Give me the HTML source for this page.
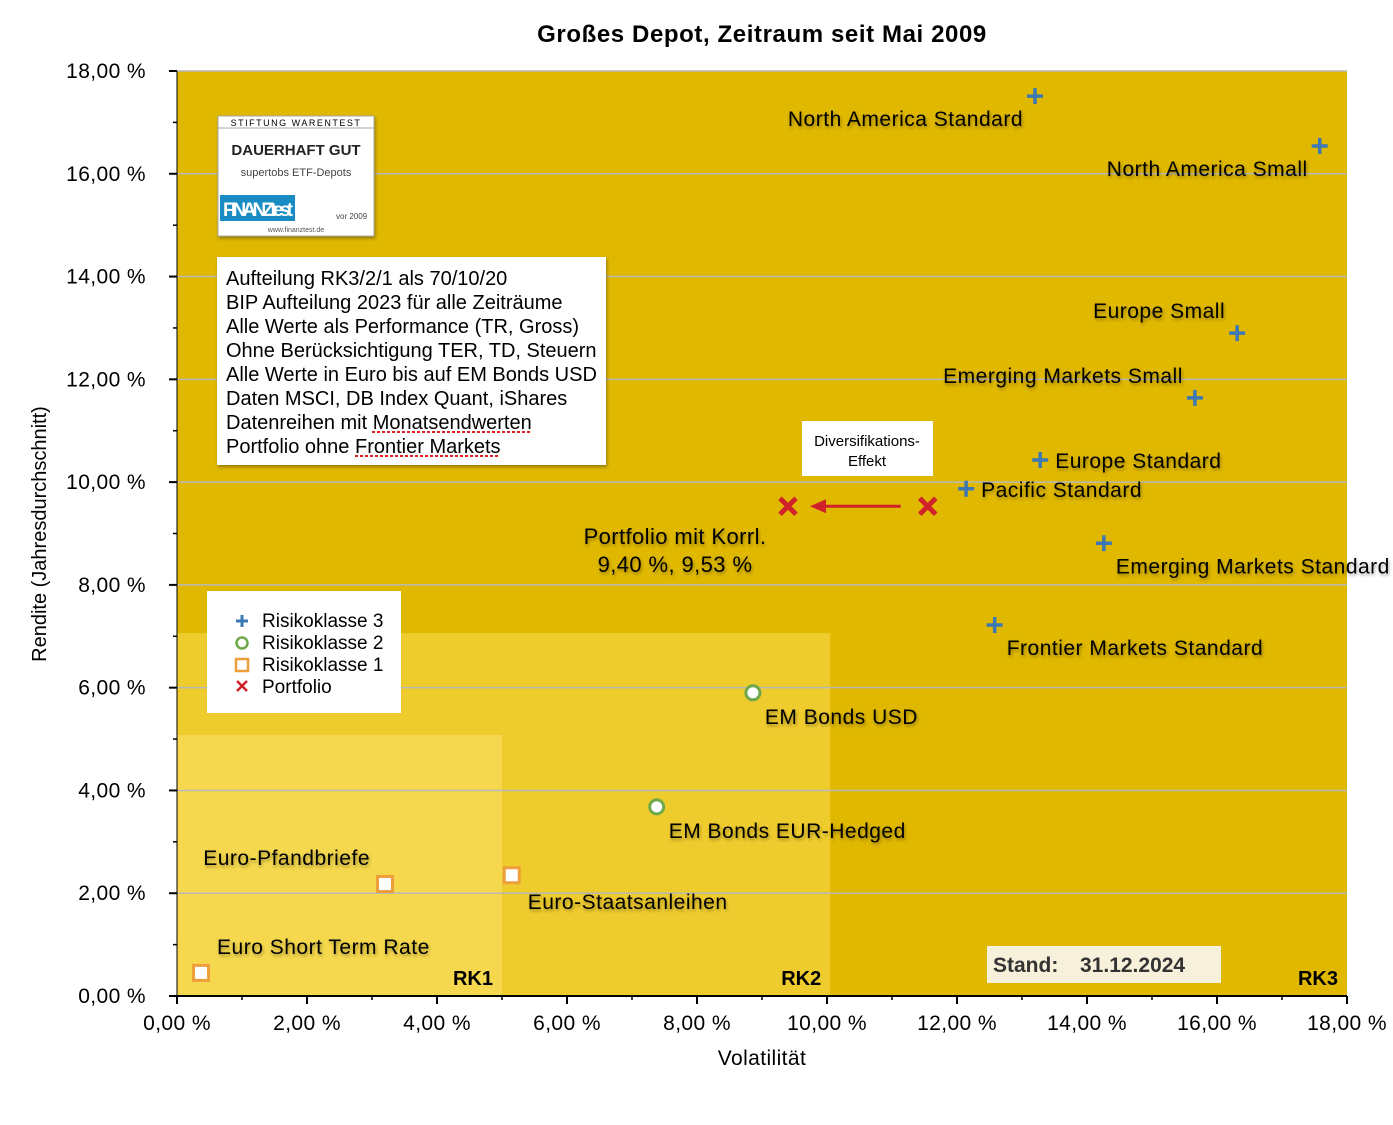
<!DOCTYPE html>
<html><head><meta charset="utf-8"><style>
body{margin:0;background:#fff;width:1393px;height:1120px;overflow:hidden;font-family:"Liberation Sans",sans-serif}
svg text{font-family:"Liberation Sans",sans-serif}
</style></head><body>
<svg id="chart" width="1393" height="1120" xmlns="http://www.w3.org/2000/svg">
<defs><filter id="sh" x="-10%" y="-30%" width="120%" height="160%"><feDropShadow dx="1" dy="2" stdDeviation="1.5" flood-color="#000" flood-opacity="0.35"/></filter></defs>
<text x="762" y="42" text-anchor="middle" font-size="24" font-weight="bold" letter-spacing="0.6">Großes Depot, Zeitraum seit Mai 2009</text>
<g id="plot"></g>
</svg>
<script>
const seriesNames=["North America Standard","North America Small","Europe Small","Emerging Markets Small","Europe Standard","Pacific Standard","Emerging Markets Standard","Frontier Markets Standard","EM Bonds USD","EM Bonds EUR-Hedged","Euro-Pfandbriefe","Euro-Staatsanleihen","Euro Short Term Rate"];
const volatility=[13.2,17.58,16.31,15.66,13.28,12.14,14.26,12.58,8.86,7.38,3.2,5.15,0.37];
const returns=[17.51,16.54,12.9,11.64,10.43,9.87,8.81,7.22,5.9,3.68,2.18,2.35,0.45];
const riskClass=[3,3,3,3,3,3,3,3,2,2,1,1,1];
const portfolioVol=[9.40,11.55];
const portfolioRet=[9.53,9.53];
const xTicks=[0,2,4,6,8,10,12,14,16,18];
const yTicks=[0,2,4,6,8,10,12,14,16,18];
const zones=[{name:"RK2",x:10.05,y:7.06,c:"#EFCC2E"},{name:"RK1",x:5.0,y:5.08,c:"#F5D84D"}];
const lbl=[[-12,30,"end"],[-12,30,"end"],[-12,-15,"end"],[-12,-15,"end"],[15,8,"start"],[15,8,"start"],[12,30,"start"],[12,30,"start"],[12,31,"start"],[12,31,"start"],[-15,-19,"end"],[16,34,"start"],[16,-19,"start"]];
const X0=177,X1=1347,Y0=996,Y1=71;
const sx=v=>X0+(v/18)*(X1-X0), sy=v=>Y0-(v/18)*(Y0-Y1);
const g=document.getElementById('plot');
const NS="http://www.w3.org/2000/svg";
function mk(t,a,p){const e=document.createElementNS(NS,t);for(const k in a)e.setAttribute(k,a[k]);(p||g).appendChild(e);return e;}
let e=mk('rect',{x:X0,y:Y1,width:X1-X0,height:Y0-Y1,fill:"#E0B800"});


zones.forEach(z=>{const r=mk('rect',{x:X0,y:sy(z.y),width:sx(z.x)-X0,height:Y0-sy(z.y),fill:z.c});

});
yTicks.forEach(t=>{if(t>0){const l=mk('line',{x1:X0,x2:X1,y1:sy(t),y2:sy(t),stroke:"#b8b8b8","stroke-width":1.5});

}
mk('line',{x1:X0-8,x2:X0,y1:sy(t),y2:sy(t),stroke:"#000","stroke-width":2});
const tx=mk('text',{x:146,y:sy(t)+7,"text-anchor":"end","font-size":21,"letter-spacing":0.4});tx.textContent=t.toFixed(2).replace('.',',')+' %';

});
for(let i=1;i<18;i+=2){mk('line',{x1:X0-4,x2:X0,y1:sy(i),y2:sy(i),stroke:"#000","stroke-width":1.5});}
xTicks.forEach(t=>{mk('line',{x1:sx(t),x2:sx(t),y1:Y0,y2:Y0+8,stroke:"#000","stroke-width":2});
const tx=mk('text',{x:sx(t),y:1030,"text-anchor":"middle","font-size":21,"letter-spacing":0.4});tx.textContent=t.toFixed(2).replace('.',',')+' %';

});
for(let i=1;i<18;i+=2){mk('line',{x1:sx(i),x2:sx(i),y1:Y0,y2:Y0+4,stroke:"#000","stroke-width":1.5});}
mk('line',{x1:X0,x2:X1,y1:Y0,y2:Y0,stroke:"#000","stroke-width":2});
mk('line',{x1:X0,x2:X0,y1:Y1,y2:Y0,stroke:"#000","stroke-width":1});
[["RK1",5.0],["RK2",10.05],["RK3",18]].forEach(r=>{const t=mk('text',{x:sx(r[1])-9,y:985,"text-anchor":"end","font-size":20,"font-weight":"bold"});t.textContent=r[0];

});
function marker(cls,x,y,p){
 if(cls===3){mk('path',{d:`M${x-8} ${y}H${x+8}M${x} ${y-8}V${y+8}`,stroke:"#3C78B4","stroke-width":3.5},p);}
 else if(cls===2){mk('circle',{cx:x,cy:y,r:7,fill:"#fff",stroke:"#6FA84A","stroke-width":3},p);}
 else if(cls===1){mk('rect',{x:x-7.5,y:y-7.5,width:15,height:15,fill:"#fff",stroke:"#EE9E3A","stroke-width":3},p);}
 else {mk('path',{d:`M${x-8} ${y-8}L${x+8} ${y+8}M${x+8} ${y-8}L${x-8} ${y+8}`,stroke:"#D0222A","stroke-width":5},p);}
}
volatility.forEach((v,i)=>{const x=sx(v),y=sy(returns[i]);
const pg=mk('g',{});


marker(riskClass[i],x,y,pg);
const t=mk('text',{x:x+lbl[i][0],y:y+lbl[i][1],"text-anchor":lbl[i][2],"font-size":21,"letter-spacing":0.5,filter:"url(#sh)"});t.textContent=seriesNames[i];

});
portfolioVol.forEach((v,i)=>{const pg=mk('g',{});


marker(0,sx(v),sy(portfolioRet[i]),pg);});
const ay=sy(portfolioRet[0]);
mk('line',{x1:sx(portfolioVol[1])-27,x2:sx(portfolioVol[0])+35,y1:ay,y2:ay,stroke:"#D0222A","stroke-width":3});
mk('path',{d:`M${sx(portfolioVol[0])+22} ${ay}l16 -7v14z`,fill:"#D0222A"});
</script>
<svg style="position:absolute;left:0;top:0" width="1393" height="1120" xmlns="http://www.w3.org/2000/svg">
<text x="675" y="544" text-anchor="middle" font-size="22" letter-spacing="0.4" filter="url(#sh)">Portfolio mit Korrl.</text>
<text x="675" y="572" text-anchor="middle" font-size="22" letter-spacing="0.4" filter="url(#sh)">9,40 %, 9,53 %</text>
<g><rect x="802" y="421" width="131" height="55" fill="#fff"/>
<text x="867" y="446" text-anchor="middle" font-size="15">Diversifikations-</text><text x="867" y="466" text-anchor="middle" font-size="15">Effekt</text></g>
<g><rect x="217" y="257" width="389" height="208" fill="#fff" filter="url(#sh)"/>
<g font-size="20"><text x="226" y="285">Aufteilung RK3/2/1 als 70/10/20</text><text x="226" y="309">BIP Aufteilung 2023 für alle Zeiträume</text><text x="226" y="333">Alle Werte als Performance (TR, Gross)</text><text x="226" y="357">Ohne Berücksichtigung TER, TD, Steuern</text><text x="226" y="381">Alle Werte in Euro bis auf EM Bonds USD</text><text x="226" y="405">Daten MSCI, DB Index Quant, iShares</text><text x="226" y="429">Datenreihen mit Monatsendwerten</text><text x="226" y="453">Portfolio ohne Frontier Markets</text></g>
<path d="M372 432H530M355 456H499" stroke="#e02020" stroke-width="2" stroke-dasharray="3 2"/></g>
<g><rect x="218" y="116" width="156" height="120" fill="#fff" stroke="#aaa" filter="url(#sh)"/>
<text x="296" y="126" text-anchor="middle" font-size="9" font-family="Liberation Serif" letter-spacing="1.5">STIFTUNG WARENTEST</text>
<line x1="218" y1="128" x2="374" y2="128" stroke="#aaa"/>
<text x="296" y="155" text-anchor="middle" font-size="15" font-weight="bold" fill="#222">DAUERHAFT GUT</text>
<text x="296" y="176" text-anchor="middle" font-size="11" fill="#444">supertobs ETF-Depots</text>
<rect x="220" y="195" width="75" height="26" fill="#1a8cc4"/><text x="223" y="216" font-size="19" font-weight="bold" fill="#fff" textLength="70">FINANZtest</text>
<text x="336" y="219" font-size="8" fill="#444">vor 2009</text><text x="296" y="232" text-anchor="middle" font-size="7" fill="#555">www.finanztest.de</text></g>
<g><rect x="207" y="591" width="194" height="122" fill="#fff"/>
<path d="M236 621h12M242 615v12" stroke="#3C78B4" stroke-width="3"/><circle cx="242" cy="643" r="5.5" fill="#fff" stroke="#6FA84A" stroke-width="2.5"/>
<rect x="236" y="659" width="12" height="12" fill="#fff" stroke="#EE9E3A" stroke-width="2.5"/><path d="M237 681l10 10M247 681l-10 10" stroke="#D0222A" stroke-width="2.5"/>
<g font-size="19"><text x="262" y="627">Risikoklasse 3</text><text x="262" y="649">Risikoklasse 2</text><text x="262" y="671">Risikoklasse 1</text><text x="262" y="693">Portfolio</text></g></g>
<g><rect x="987" y="946" width="234" height="37" fill="#F7F0DA"/>
<text x="993" y="972" font-size="21" font-weight="bold" fill="#333">Stand:</text><text x="1080" y="972" font-size="21" font-weight="bold" fill="#333">31.12.2024</text></g>
<text x="762" y="1065" text-anchor="middle" font-size="21" letter-spacing="0.4">Volatilität</text>
<text transform="translate(46 534) rotate(-90)" text-anchor="middle" font-size="20">Rendite (Jahresdurchschnitt)</text>
</svg>
</body></html>
